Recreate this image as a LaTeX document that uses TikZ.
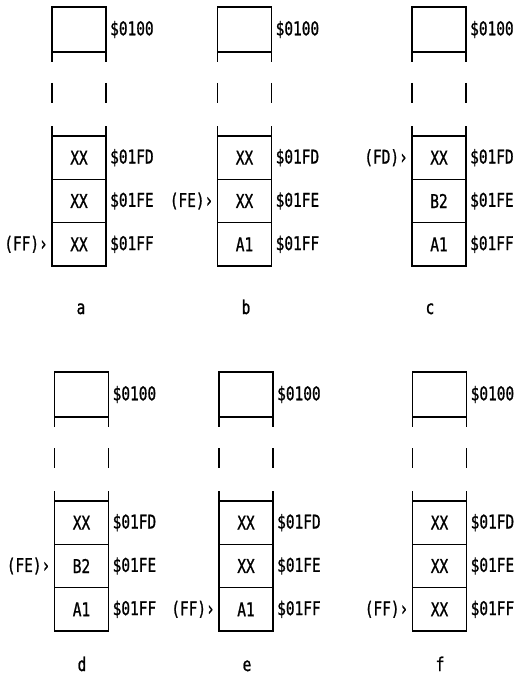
\documentclass[tikz,border=0pt]{standalone}
\usepackage{fontspec}
\newfontfamily\dotfont[FakeStretch=0.76,FakeBold=1]{DejaVu Sans Mono}
\usetikzlibrary{positioning}

\begin{document}
\begin{tikzpicture}[
    x=1pt, y=-1pt,
    txt/.style={font=\dotfont\fontsize{19}{19}\selectfont},
    cell/.style={txt, draw, line width=1.6pt, minimum width=54pt, minimum height=43.3pt, inner sep=0pt, outer sep=0pt},
    topcell/.style={cell, minimum height=45pt},
    addr/.style={txt, inner sep=0pt},
    ptr/.style={txt, inner sep=0pt},
    tag/.style={txt, inner sep=0pt, anchor=base},
    rail/.style={line width=1.6pt}
]
\useasboundingbox (0,0) rectangle (516,679);

% --- Panel a ---
\node[topcell] (a0) at (79,29.5) {};
\node[cell] (a1) at (79,157.7) {XX};
\node[cell, below=0pt of a1] (a2) {XX};
\node[cell, below=0pt of a2] (a3) {XX};
\draw[rail] (a0.south west) -- ++(0,10) ++(0,21) -- ++(0,20) (a0.south east) -- ++(0,10) ++(0,21) -- ++(0,20)
            (a1.north west) -- ++(0,-10) (a1.north east) -- ++(0,-10);
\node[addr, right=4pt of a0] (a0l) {\$0100};
\node[addr, right=4pt of a1] (a1l) {\$01FD};
\node[addr, right=4pt of a2] (a2l) {\$01FE};
\node[addr, right=4pt of a3] (a3l) {\$01FF};
\node[ptr, left=4pt of a3] (ap) {(FF)›};
\node[tag] (at) at (81,314) {a};

% --- Panel b ---
\node[topcell] (b0) at (244.5,29.5) {};
\node[cell] (b1) at (244.5,157.7) {XX};
\node[cell, below=0pt of b1] (b2) {XX};
\node[cell, below=0pt of b2] (b3) {A1};
\draw[rail] (b0.south west) -- ++(0,10) ++(0,21) -- ++(0,20) (b0.south east) -- ++(0,10) ++(0,21) -- ++(0,20)
            (b1.north west) -- ++(0,-10) (b1.north east) -- ++(0,-10);
\node[addr, right=4pt of b0] (b0l) {\$0100};
\node[addr, right=4pt of b1] (b1l) {\$01FD};
\node[addr, right=4pt of b2] (b2l) {\$01FE};
\node[addr, right=4pt of b3] (b3l) {\$01FF};
\node[ptr, left=4pt of b2] (bp) {(FE)›};
\node[tag] (bt) at (246,314) {b};

% --- Panel c ---
\node[topcell] (c0) at (439,29.5) {};
\node[cell] (c1) at (439,157.7) {XX};
\node[cell, below=0pt of c1] (c2) {B2};
\node[cell, below=0pt of c2] (c3) {A1};
\draw[rail] (c0.south west) -- ++(0,10) ++(0,21) -- ++(0,20) (c0.south east) -- ++(0,10) ++(0,21) -- ++(0,20)
            (c1.north west) -- ++(0,-10) (c1.north east) -- ++(0,-10);
\node[addr, right=4pt of c0] (c0l) {\$0100};
\node[addr, right=4pt of c1] (c1l) {\$01FD};
\node[addr, right=4pt of c2] (c2l) {\$01FE};
\node[addr, right=4pt of c3] (c3l) {\$01FF};
\node[ptr, left=4pt of c1] (cp) {(FD)›};
\node[tag] (ct) at (430,314) {c};

% --- Panel d ---
\node[topcell] (d0) at (81.5,394.5) {};
\node[cell] (d1) at (81.5,522.7) {XX};
\node[cell, below=0pt of d1] (d2) {B2};
\node[cell, below=0pt of d2] (d3) {A1};
\draw[rail] (d0.south west) -- ++(0,10) ++(0,21) -- ++(0,20) (d0.south east) -- ++(0,10) ++(0,21) -- ++(0,20)
            (d1.north west) -- ++(0,-10) (d1.north east) -- ++(0,-10);
\node[addr, right=4pt of d0] (d0l) {\$0100};
\node[addr, right=4pt of d1] (d1l) {\$01FD};
\node[addr, right=4pt of d2] (d2l) {\$01FE};
\node[addr, right=4pt of d3] (d3l) {\$01FF};
\node[ptr, left=4pt of d2] (dp) {(FE)›};
\node[tag] (dt) at (82,671) {d};

% --- Panel e ---
\node[topcell] (e0) at (246,394.5) {};
\node[cell] (e1) at (246,522.7) {XX};
\node[cell, below=0pt of e1] (e2) {XX};
\node[cell, below=0pt of e2] (e3) {A1};
\draw[rail] (e0.south west) -- ++(0,10) ++(0,21) -- ++(0,20) (e0.south east) -- ++(0,10) ++(0,21) -- ++(0,20)
            (e1.north west) -- ++(0,-10) (e1.north east) -- ++(0,-10);
\node[addr, right=4pt of e0] (e0l) {\$0100};
\node[addr, right=4pt of e1] (e1l) {\$01FD};
\node[addr, right=4pt of e2] (e2l) {\$01FE};
\node[addr, right=4pt of e3] (e3l) {\$01FF};
\node[ptr, left=4pt of e3] (ep) {(FF)›};
\node[tag] (et) at (247,671) {e};

% --- Panel f ---
\node[topcell] (f0) at (439.5,394.5) {};
\node[cell] (f1) at (439.5,522.7) {XX};
\node[cell, below=0pt of f1] (f2) {XX};
\node[cell, below=0pt of f2] (f3) {XX};
\draw[rail] (f0.south west) -- ++(0,10) ++(0,21) -- ++(0,20) (f0.south east) -- ++(0,10) ++(0,21) -- ++(0,20)
            (f1.north west) -- ++(0,-10) (f1.north east) -- ++(0,-10);
\node[addr, right=4pt of f0] (f0l) {\$0100};
\node[addr, right=4pt of f1] (f1l) {\$01FD};
\node[addr, right=4pt of f2] (f2l) {\$01FE};
\node[addr, right=4pt of f3] (f3l) {\$01FF};
\node[ptr, left=4pt of f3] (fp) {(FF)›};
\node[tag] (ft) at (440,671) {f};
\end{tikzpicture}
\end{document}
